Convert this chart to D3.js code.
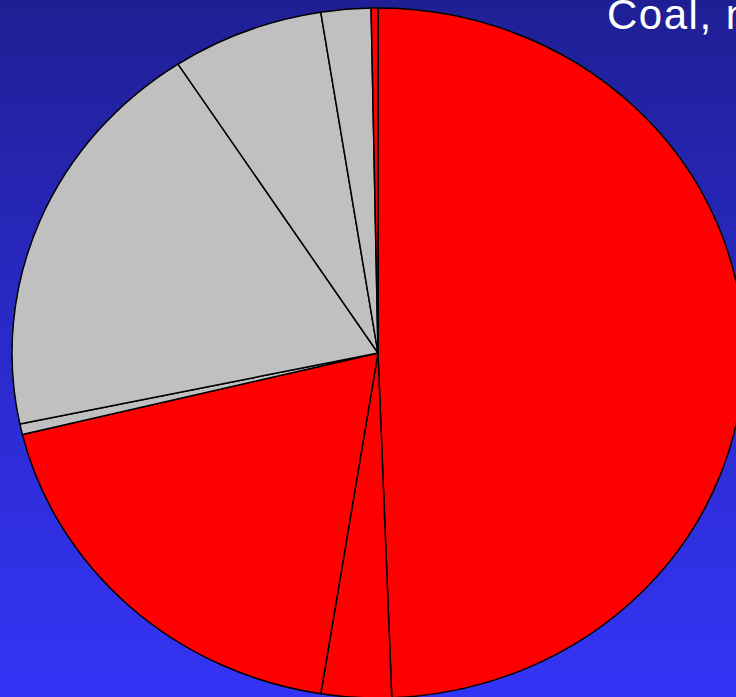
<!DOCTYPE html>
<html>
<head>
<meta charset="utf-8">
<script src="https://d3js.org/d3.v7.min.js"></script>
<style>
  html, body { margin: 0; padding: 0; overflow: hidden; }
  body { width: 736px; height: 697px; }
</style>
</head>
<body>
<script>
    // slice shares (percent), clockwise from 12 o'clock
    var sliceValues = [49.4, 3.1, 18.7, 0.5, 19.1, 6.7, 2.2, 0.3];
    var sliceColors = ["#ff0000", "#ff0000", "#ff0000", "#c0c0c0", "#c0c0c0", "#c0c0c0", "#c0c0c0", "#ff0000"];
    var titleText = "Coal, nuclear";

    var width = 736, height = 697;
    var cx = 378, cy = 353, rx = 366, ry = 345;

    var svg = d3.select("body").append("svg")
        .attr("width", width)
        .attr("height", height);

    // background gradient
    var grad = svg.append("defs").append("linearGradient")
        .attr("id", "bg").attr("x1", 0).attr("y1", 0).attr("x2", 0).attr("y2", 1);
    grad.append("stop").attr("offset", "0%").attr("stop-color", "#1f1f94");
    grad.append("stop").attr("offset", "50%").attr("stop-color", "#2a2acb");
    grad.append("stop").attr("offset", "100%").attr("stop-color", "#3434f6");
    svg.append("rect").attr("width", width).attr("height", height).attr("fill", "url(#bg)");

    var pie = d3.pie().sort(null).value(function(d){ return d; });
    var arc = d3.arc().innerRadius(0).outerRadius(ry);

    // pie is slightly stretched horizontally
    var g = svg.append("g")
        .attr("transform", "translate(" + cx + "," + cy + ") scale(" + (rx / ry) + ",1)");

    g.selectAll("path")
        .data(pie(sliceValues))
        .enter().append("path")
        .attr("d", arc)
        .attr("fill", function(d, i){ return sliceColors[i]; })
        .attr("stroke", "#000")
        .attr("stroke-width", 1.5)
        .attr("vector-effect", "non-scaling-stroke")
        .attr("stroke-linejoin", "round");

    svg.append("text")
        .attr("x", 607)
        .attr("y", 29)
        .attr("fill", "#fff")
        .style("font-family", "'Liberation Sans', Arial, sans-serif")
        .style("font-size", "42px")
        .style("letter-spacing", "1.5px")
        .text(titleText);
</script>
</body>
</html>
